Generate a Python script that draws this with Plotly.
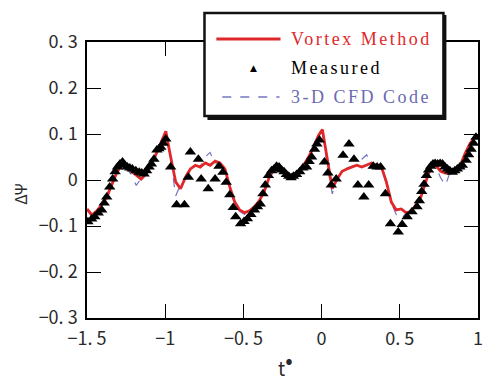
import plotly.graph_objects as go

# ---- data ----
t_line = [-1.500,-1.469,-1.437,-1.406,-1.374,-1.343,-1.311,-1.280,-1.248,-1.217,
          -1.185,-1.154,-1.122,-1.091,-1.059,-1.028,-0.996,-0.965,-0.933,-0.902,
          -0.870,-0.839,-0.807,-0.776,-0.744,-0.713,-0.681,-0.650,-0.618,-0.587,
          -0.555,-0.524,-0.492,-0.461,-0.429,-0.398,-0.366,-0.335,-0.304,-0.272,
          -0.241,-0.209,-0.178,-0.146,-0.115,-0.083,-0.052,-0.020,0.005,0.037,
          0.068,0.099,0.131,0.162,0.194,0.225,0.257,0.288,0.320,0.351,
          0.383,0.414,0.446,0.477,0.509,0.540,0.572,0.603,0.635,0.666,
          0.698,0.729,0.761,0.792,0.824,0.855,0.887,0.918,0.950,0.981,
          1.000]

vortex = [-0.063,-0.076,-0.067,-0.054,-0.037,-0.011,0.015,0.032,0.028,0.019,
          0.011,0.002,0.013,0.032,0.056,0.082,0.106,0.050,-0.004,-0.019,
          0.006,0.024,0.032,0.028,0.037,0.032,0.041,0.037,0.024,-0.015,
          -0.048,-0.065,-0.071,-0.067,-0.058,-0.045,-0.024,0.006,0.024,0.024,
          0.015,0.011,0.006,0.015,0.032,0.050,0.071,0.097,0.110,0.039,
          -0.019,0.002,0.019,0.024,0.028,0.032,0.028,0.032,0.037,0.032,
          0.028,-0.004,-0.048,-0.065,-0.063,-0.071,-0.069,-0.054,-0.037,-0.004,
          0.028,0.032,0.019,0.015,0.015,0.024,0.032,0.058,0.080,0.093,
          0.097]

cfd = [-0.065,-0.080,-0.070,-0.055,-0.035,-0.008,0.018,0.030,0.026,0.012,
       -0.012,0.004,0.015,0.030,0.054,0.078,0.100,0.045,-0.035,-0.010,
       0.010,0.026,0.030,0.030,0.050,0.060,0.035,0.035,0.020,-0.020,
       -0.052,-0.068,-0.075,-0.070,-0.060,-0.050,-0.028,0.004,0.022,0.026,
       0.020,0.008,0.004,0.014,0.030,0.048,0.068,0.092,0.104,0.030,
       -0.030,0.000,0.018,0.026,0.030,0.034,0.045,0.055,0.030,0.034,
       0.030,-0.008,-0.050,-0.075,-0.085,-0.072,-0.070,-0.056,-0.040,-0.008,
       0.026,0.030,0.005,-0.012,0.020,0.026,0.034,0.055,0.078,0.090,
       0.095]

t_meas = [-1.494,-1.470,-1.450,-1.428,-1.406,-1.390,-1.374,-1.355,-1.336,-1.320,
          -1.305,-1.289,-1.273,-1.258,-1.242,-1.226,-1.210,-1.188,-1.166,-1.150,
          -1.135,-1.119,-1.103,-1.088,-1.072,-1.053,-1.040,-1.028,-1.012,-0.996,
          -0.965,-0.927,-0.877,-0.852,-0.839,-0.788,-0.770,-0.725,-0.681,-0.656,
          -0.631,-0.610,-0.587,-0.565,-0.549,-0.518,-0.496,-0.474,-0.452,-0.429,
          -0.410,-0.392,-0.375,-0.360,-0.340,-0.320,-0.304,-0.288,-0.272,-0.256,
          -0.240,-0.225,-0.210,-0.195,-0.180,-0.160,-0.140,-0.120,-0.096,-0.080,
          -0.064,-0.045,-0.030,-0.014,0.018,0.040,0.062,0.093,0.137,0.175,
          0.207,0.232,0.270,0.301,0.330,0.355,0.377,0.408,0.440,0.490,
          0.515,0.547,0.578,0.610,0.625,0.640,0.655,0.670,0.684,0.698,
          0.712,0.726,0.742,0.758,0.773,0.789,0.805,0.820,0.836,0.852,
          0.868,0.884,0.900,0.924,0.940,0.956,0.972,0.987]

measured = [-0.091,-0.085,-0.080,-0.072,-0.065,-0.050,-0.037,-0.015,0.002,0.018,
            0.028,0.035,0.039,0.032,0.028,0.026,0.024,0.020,0.017,0.015,
            0.013,0.020,0.028,0.035,0.045,0.065,0.068,0.071,0.080,0.089,
            0.028,-0.054,-0.054,0.006,0.061,0.045,0.002,-0.019,0.002,0.030,
            0.017,-0.005,-0.032,-0.060,-0.080,-0.095,-0.090,-0.084,-0.075,-0.065,
            -0.058,-0.052,-0.030,-0.011,0.010,0.020,0.024,0.030,0.028,0.022,
            0.018,0.012,0.008,0.005,0.008,0.012,0.018,0.026,0.028,0.040,
            0.050,0.067,0.078,0.087,0.039,0.015,-0.011,0.002,0.054,0.078,
            0.045,-0.011,-0.037,-0.011,0.030,0.028,0.028,-0.030,-0.095,-0.113,
            -0.097,-0.080,-0.069,-0.058,-0.045,-0.025,-0.009,0.010,0.022,0.030,
            0.035,0.036,0.035,0.036,0.035,0.028,0.024,0.020,0.017,0.020,
            0.024,0.028,0.032,0.043,0.055,0.067,0.080,0.093]

assert len(t_line) == len(vortex) == len(cfd)
assert len(t_meas) == len(measured)

x_ticks = [-1.5, -1, -0.5, 0, 0.5, 1]
x_labels = ["−1. 5", "−1", "−0. 5", "0", "0. 5", "1"]
y_ticks = [-0.3, -0.2, -0.1, 0, 0.1, 0.2, 0.3]
y_labels = ["−0. 3", "−0. 2", "−0. 1", "0", "0. 1", "0. 2", "0. 3"]

RED = "#e0282a"
BLUE = "#7474c4"

fig = go.Figure()
fig.add_trace(go.Scatter(x=t_line, y=cfd, mode="lines",
                         line=dict(color=BLUE, width=1.2, dash="dash"), showlegend=False))
fig.add_trace(go.Scatter(x=t_line, y=vortex, mode="lines",
                         line=dict(color=RED, width=2.8), showlegend=False))
fig.add_trace(go.Scatter(x=t_meas, y=measured, mode="markers",
                         marker=dict(symbol="triangle-up", size=10, color="black"),
                         showlegend=False))

tickfont = dict(family="Noto Sans CJK JP", size=18, color="#2a2a2a")
axis_common = dict(showline=True, linecolor="black", linewidth=1.5, mirror="ticks",
                   ticks="inside", ticklen=14, tickwidth=1.3, tickcolor="black",
                   showgrid=False, zeroline=False, tickfont=tickfont,
                   ticklabeloverflow="allow")
fig.update_xaxes(range=[-1.5, 1], tickvals=x_ticks, ticktext=x_labels,
                 ticklabelstandoff=4, **axis_common)
fig.update_yaxes(range=[-0.3, 0.3], tickvals=y_ticks, ticktext=y_labels,
                 ticklabelstandoff=4, **axis_common)

L, R, T, B = 87, 1, 42, 63
W, H = 484, 381
pw, ph = W - L - R, H - T - B

def px(x):
    return (x - L) / pw

def py(y):
    return (H - B - y) / ph

shapes = [
    # legend shadow
    dict(type="rect", xref="paper", yref="paper", x0=px(209), x1=px(451), y0=py(120), y1=py(15),
         fillcolor="#111", line=dict(width=0), layer="above"),
    # legend box
    dict(type="rect", xref="paper", yref="paper", x0=px(206), x1=px(448), y0=py(116), y1=py(13),
         fillcolor="white", line=dict(color="#111", width=2.5), layer="above"),
    dict(type="line", xref="paper", yref="paper", x0=px(218), x1=px(283), y0=py(39), y1=py(39),
         line=dict(color=RED, width=2.8), layer="above"),
    dict(type="line", xref="paper", yref="paper", x0=px(224), x1=px(282), y0=py(97), y1=py(97),
         line=dict(color=BLUE, width=1.4, dash="dash"), layer="above"),
]

legfont = "Liberation Serif"
sp = "letter-spacing:2.5px"
annotations = [
    dict(xref="paper", yref="paper", x=px(292), y=py(39),
         text=f"<span style='{sp}'>Vortex Method</span>", showarrow=False,
         xanchor="left", yanchor="middle", font=dict(family=legfont, size=18, color=RED)),
    dict(xref="paper", yref="paper", x=px(256), y=py(68), text="▲", showarrow=False,
         xanchor="center", yanchor="middle", font=dict(family="DejaVu Sans", size=9, color="black")),
    dict(xref="paper", yref="paper", x=px(292), y=py(68),
         text=f"<span style='{sp}'>Measured</span>", showarrow=False,
         xanchor="left", yanchor="middle", font=dict(family=legfont, size=18, color="black")),
    dict(xref="paper", yref="paper", x=px(292), y=py(97),
         text=f"<span style='{sp}'>3-D CFD Code</span>", showarrow=False,
         xanchor="left", yanchor="middle", font=dict(family=legfont, size=18, color="#6a6ab0")),
    # axis titles
    dict(xref="paper", yref="paper", x=px(19), y=py(194), text="ΔΨ", showarrow=False, textangle=-90,
         xanchor="center", yanchor="middle", font=dict(family="Noto Sans CJK JP", size=16, color="#2a2a2a")),
    dict(xref="paper", yref="paper", x=px(288), y=py(361),
         text="t<sup><span style='font-size:22px'>•</span></sup>", showarrow=False,
         xanchor="center", yanchor="middle", font=dict(family="Noto Sans CJK JP", size=19, color="#2a2a2a")),
]

fig.update_layout(width=W, height=H, margin=dict(l=L, r=R, t=T, b=B),
                  paper_bgcolor="white", plot_bgcolor="white",
                  shapes=shapes, annotations=annotations, showlegend=False)

fig.write_html("out.html")
